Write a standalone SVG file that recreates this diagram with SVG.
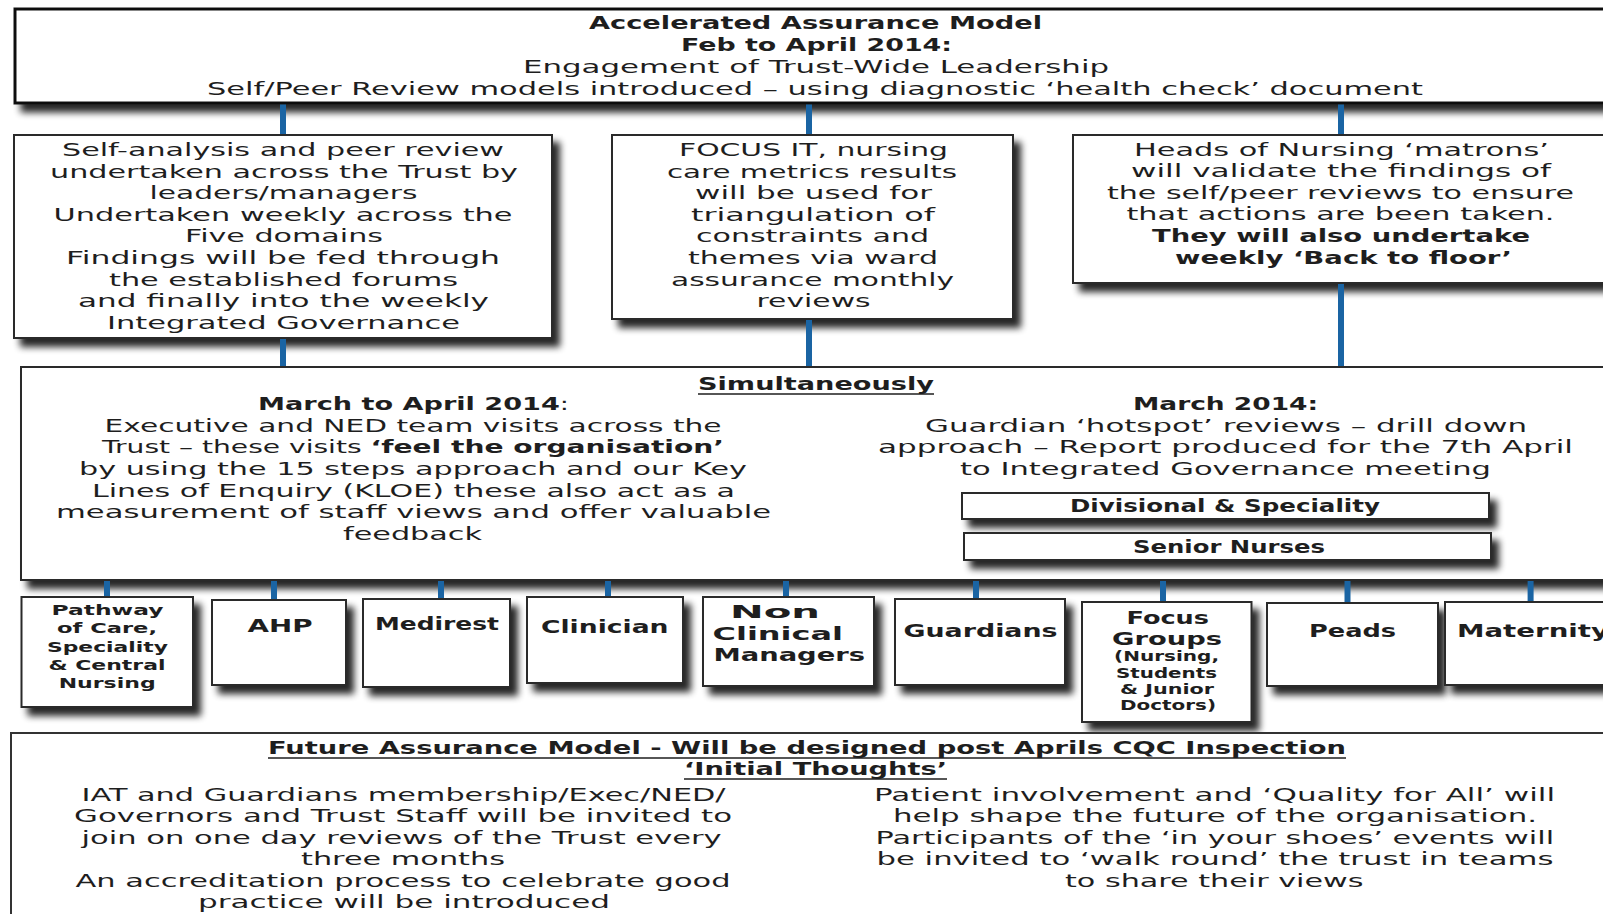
<svg xmlns="http://www.w3.org/2000/svg" width="1603" height="914" viewBox="0 0 1603 914">
<defs>
<filter id="sh" filterUnits="userSpaceOnUse" x="0" y="0" width="1603" height="914">
<feGaussianBlur in="SourceAlpha" stdDeviation="3.5"/>
<feOffset dx="7" dy="8" result="o"/>
<feComponentTransfer><feFuncA type="linear" slope="0.85"/></feComponentTransfer>
<feMerge><feMergeNode/><feMergeNode in="SourceGraphic"/></feMerge>
</filter>
<style>
.box{fill:#fff;stroke:#2a2a2a;stroke-width:2;filter:url(#sh)}
.topbox{fill:#fff;stroke:#111;stroke-width:3;filter:url(#sh)}
.plain{fill:#fff;stroke:#333;stroke-width:2}
.conn line{stroke:#1a64a3;stroke-width:6}
text{font-family:"DejaVu Sans","Liberation Sans",sans-serif;font-size:18px;fill:#1e1e1e}
.b{font-weight:bold}
.s{font-size:14.5px;font-weight:bold}
.xs{font-size:13.5px;font-weight:bold}
.ul{stroke:#1e1e1e;stroke-width:1.6}
</style>
</defs>
<rect width="1603" height="914" fill="#fff"/>

<g id="top">
<rect class="topbox" x="15" y="9" width="1620" height="94"/>
<text class="b" x="589" y="29" textLength="453" lengthAdjust="spacingAndGlyphs">Accelerated Assurance Model</text>
<text class="b" x="681" y="50.5" textLength="271" lengthAdjust="spacingAndGlyphs">Feb to April 2014:</text>
<text x="523" y="72.5" textLength="586" lengthAdjust="spacingAndGlyphs">Engagement of Trust-Wide Leadership</text>
<text x="207" y="94.5" textLength="1216" lengthAdjust="spacingAndGlyphs">Self/Peer Review models introduced – using diagnostic ‘health check’ document</text>
</g>

<g id="selfanalysis">
<rect class="box" x="14" y="135" width="538" height="203"/>
<text x="62" y="156" textLength="442" lengthAdjust="spacingAndGlyphs">Self-analysis and peer review</text>
<text x="50" y="177.5" textLength="468" lengthAdjust="spacingAndGlyphs">undertaken across the Trust by</text>
<text x="149.5" y="199" textLength="268" lengthAdjust="spacingAndGlyphs">leaders/managers</text>
<text x="53.5" y="220.5" textLength="459" lengthAdjust="spacingAndGlyphs">Undertaken weekly across the</text>
<text x="185" y="242" textLength="198" lengthAdjust="spacingAndGlyphs">Five domains</text>
<text x="66" y="264" textLength="434" lengthAdjust="spacingAndGlyphs">Findings will be fed through</text>
<text x="109" y="285.5" textLength="349" lengthAdjust="spacingAndGlyphs">the established forums</text>
<text x="78" y="307" textLength="411" lengthAdjust="spacingAndGlyphs">and finally into the weekly</text>
<text x="107" y="329" textLength="353" lengthAdjust="spacingAndGlyphs">Integrated Governance</text>
</g>

<g id="focusit">
<rect class="box" x="612" y="135" width="401" height="184"/>
<text x="679" y="156" textLength="269" lengthAdjust="spacingAndGlyphs">FOCUS IT, nursing</text>
<text x="667" y="177.5" textLength="290" lengthAdjust="spacingAndGlyphs">care metrics results</text>
<text x="695" y="199" textLength="237" lengthAdjust="spacingAndGlyphs">will be used for</text>
<text x="691" y="220.5" textLength="244" lengthAdjust="spacingAndGlyphs">triangulation of</text>
<text x="696" y="242" textLength="233" lengthAdjust="spacingAndGlyphs">constraints and</text>
<text x="688" y="264" textLength="250" lengthAdjust="spacingAndGlyphs">themes via ward</text>
<text x="671" y="285.5" textLength="283" lengthAdjust="spacingAndGlyphs">assurance monthly</text>
<text x="756.5" y="307" textLength="114" lengthAdjust="spacingAndGlyphs">reviews</text>
</g>

<g id="heads">
<rect class="box" x="1073" y="135" width="560" height="148"/>
<text x="1134" y="156" textLength="415" lengthAdjust="spacingAndGlyphs">Heads of Nursing ‘matrons’</text>
<text x="1131" y="177" textLength="420" lengthAdjust="spacingAndGlyphs">will validate the findings of</text>
<text x="1107" y="199" textLength="467" lengthAdjust="spacingAndGlyphs">the self/peer reviews to ensure</text>
<text x="1126.5" y="220" textLength="428" lengthAdjust="spacingAndGlyphs">that actions are been taken.</text>
<text class="b" x="1152" y="241.5" textLength="378" lengthAdjust="spacingAndGlyphs">They will also undertake</text>
<text class="b" x="1175" y="263.5" textLength="337" lengthAdjust="spacingAndGlyphs">weekly ‘Back to floor’</text>
</g>

<g id="simultaneously">
<rect class="box" x="21" y="367" width="1620" height="213"/>
<text class="b" x="698" y="390" textLength="236" lengthAdjust="spacingAndGlyphs">Simultaneously</text>
<line class="ul" x1="698" y1="394" x2="934" y2="394"/>
<text x="258" y="410" textLength="311" lengthAdjust="spacingAndGlyphs"><tspan class="b">March to April 2014</tspan>:</text>
<text x="104.6" y="431.5" textLength="617" lengthAdjust="spacingAndGlyphs">Executive and NED team visits across the</text>
<text x="102" y="453" textLength="622" lengthAdjust="spacingAndGlyphs">Trust – these visits <tspan class="b">‘feel the organisation’</tspan></text>
<text x="79" y="475" textLength="668" lengthAdjust="spacingAndGlyphs">by using the 15 steps approach and our Key</text>
<text x="92" y="496.5" textLength="643" lengthAdjust="spacingAndGlyphs">Lines of Enquiry (KLOE) these also act as a</text>
<text x="56" y="518" textLength="715" lengthAdjust="spacingAndGlyphs">measurement of staff views and offer valuable</text>
<text x="343" y="540" textLength="139" lengthAdjust="spacingAndGlyphs">feedback</text>
<text class="b" x="1133" y="410" textLength="185" lengthAdjust="spacingAndGlyphs">March 2014:</text>
<text x="925" y="431.5" textLength="602" lengthAdjust="spacingAndGlyphs">Guardian ‘hotspot’ reviews – drill down</text>
<text x="878" y="453" textLength="695" lengthAdjust="spacingAndGlyphs">approach – Report produced for the 7th April</text>
<text x="960" y="475" textLength="531" lengthAdjust="spacingAndGlyphs">to Integrated Governance meeting</text>
</g>

<g id="divisional">
<rect class="box" x="962" y="493" width="527" height="26"/>
<text class="b" x="1070" y="512" textLength="310" lengthAdjust="spacingAndGlyphs">Divisional &amp; Speciality</text>
</g>
<g id="seniornurses">
<rect class="box" x="964" y="533" width="527" height="27"/>
<text class="b" x="1133" y="552.5" textLength="192" lengthAdjust="spacingAndGlyphs">Senior Nurses</text>
</g>

<g id="pathway">
<rect class="box" x="21.5" y="597" width="171.5" height="110"/>
<text class="s" x="51.5" y="615" textLength="112" lengthAdjust="spacingAndGlyphs">Pathway</text>
<text class="s" x="57" y="633" textLength="100" lengthAdjust="spacingAndGlyphs">of Care,</text>
<text class="s" x="47" y="651.5" textLength="121" lengthAdjust="spacingAndGlyphs">Speciality</text>
<text class="s" x="48.5" y="670" textLength="117" lengthAdjust="spacingAndGlyphs">&amp; Central</text>
<text class="s" x="58.7" y="688" textLength="97" lengthAdjust="spacingAndGlyphs">Nursing</text>
</g>
<g id="ahp">
<rect class="box" x="212" y="600" width="134" height="85"/>
<text class="b" x="247.5" y="631.5" textLength="65" lengthAdjust="spacingAndGlyphs">AHP</text>
</g>
<g id="medirest">
<rect class="box" x="363" y="599" width="147" height="88"/>
<text class="b" x="375" y="630" textLength="124" lengthAdjust="spacingAndGlyphs">Medirest</text>
</g>
<g id="clinician">
<rect class="box" x="527" y="597" width="156" height="86"/>
<text class="b" x="541" y="633" textLength="127.5" lengthAdjust="spacingAndGlyphs">Clinician</text>
</g>
<g id="nonclinical">
<rect class="box" x="703" y="597" width="171" height="89"/>
<text class="b" x="730" y="618" textLength="90" lengthAdjust="spacingAndGlyphs">Non</text>
<text class="b" x="712.5" y="640" textLength="130.5" lengthAdjust="spacingAndGlyphs">Clinical</text>
<text class="b" x="713.5" y="661" textLength="151.5" lengthAdjust="spacingAndGlyphs">Managers</text>
</g>
<g id="guardians">
<rect class="box" x="895" y="599" width="170" height="86"/>
<text class="b" x="903.5" y="636.5" textLength="154" lengthAdjust="spacingAndGlyphs">Guardians</text>
</g>
<g id="focusgroups">
<rect class="box" x="1082" y="602" width="169.5" height="120"/>
<text class="b" x="1126.5" y="624" textLength="82.5" lengthAdjust="spacingAndGlyphs">Focus</text>
<text class="b" x="1112" y="645" textLength="110" lengthAdjust="spacingAndGlyphs">Groups</text>
<text class="xs" x="1114" y="661" textLength="105" lengthAdjust="spacingAndGlyphs">(Nursing,</text>
<text class="xs" x="1116" y="677.5" textLength="101" lengthAdjust="spacingAndGlyphs">Students</text>
<text class="xs" x="1120" y="694" textLength="94" lengthAdjust="spacingAndGlyphs">&amp; Junior</text>
<text class="xs" x="1120" y="710" textLength="96" lengthAdjust="spacingAndGlyphs">Doctors)</text>
</g>
<g id="peads">
<rect class="box" x="1267" y="603" width="171" height="83"/>
<text class="b" x="1309" y="636.5" textLength="87" lengthAdjust="spacingAndGlyphs">Peads</text>
</g>
<g id="maternity">
<rect class="box" x="1445" y="602" width="200" height="83"/>
<text class="b" x="1457" y="636.5" textLength="152" lengthAdjust="spacingAndGlyphs">Maternity</text>
</g>

<g id="future">
<rect class="plain" x="11" y="733" width="1620" height="200"/>
<text class="b" x="268" y="754" textLength="1078" lengthAdjust="spacingAndGlyphs">Future Assurance Model - Will be designed post Aprils CQC Inspection</text>
<line class="ul" x1="268" y1="758" x2="1346" y2="758"/>
<text class="b" x="684" y="775" textLength="263" lengthAdjust="spacingAndGlyphs">‘Initial Thoughts’</text>
<line class="ul" x1="684" y1="779" x2="947" y2="779"/>
<text x="81.6" y="801" textLength="644" lengthAdjust="spacingAndGlyphs">IAT and Guardians membership/Exec/NED/</text>
<text x="74" y="822" textLength="658" lengthAdjust="spacingAndGlyphs">Governors and Trust Staff will be invited to</text>
<text x="81.6" y="843.5" textLength="640" lengthAdjust="spacingAndGlyphs">join on one day reviews of the Trust every</text>
<text x="301" y="865" textLength="204" lengthAdjust="spacingAndGlyphs">three months</text>
<text x="75.5" y="886.5" textLength="655" lengthAdjust="spacingAndGlyphs">An accreditation process to celebrate good</text>
<text x="198" y="908" textLength="412" lengthAdjust="spacingAndGlyphs">practice will be introduced</text>
<text x="874" y="801" textLength="681" lengthAdjust="spacingAndGlyphs">Patient involvement and ‘Quality for All’ will</text>
<text x="893" y="822" textLength="644" lengthAdjust="spacingAndGlyphs">help shape the future of the organisation.</text>
<text x="875.5" y="843.5" textLength="678.6" lengthAdjust="spacingAndGlyphs">Participants of the ‘in your shoes’ events will</text>
<text x="876.5" y="865" textLength="677" lengthAdjust="spacingAndGlyphs">be invited to ‘walk round’ the trust in teams</text>
<text x="1065" y="886.5" textLength="298.5" lengthAdjust="spacingAndGlyphs">to share their views</text>
</g>

<g id="connectors" class="conn">
<line x1="283" y1="104.5" x2="283" y2="134"/>
<line x1="809" y1="104.5" x2="809" y2="134"/>
<line x1="1341" y1="104.5" x2="1341" y2="134"/>
<line x1="283" y1="339" x2="283" y2="366"/>
<line x1="809" y1="320" x2="809" y2="366"/>
<line x1="1341" y1="284" x2="1341" y2="366"/>
<line x1="107" y1="581" x2="107" y2="596"/>
<line x1="274" y1="581" x2="274" y2="599"/>
<line x1="441" y1="581" x2="441" y2="598"/>
<line x1="608" y1="581" x2="608" y2="596"/>
<line x1="786" y1="581" x2="786" y2="596"/>
<line x1="976" y1="581" x2="976" y2="598"/>
<line x1="1163" y1="581" x2="1163" y2="601"/>
<line x1="1347.5" y1="581" x2="1347.5" y2="602"/>
<line x1="1530.6" y1="581" x2="1530.6" y2="601"/>
</g>
</svg>
